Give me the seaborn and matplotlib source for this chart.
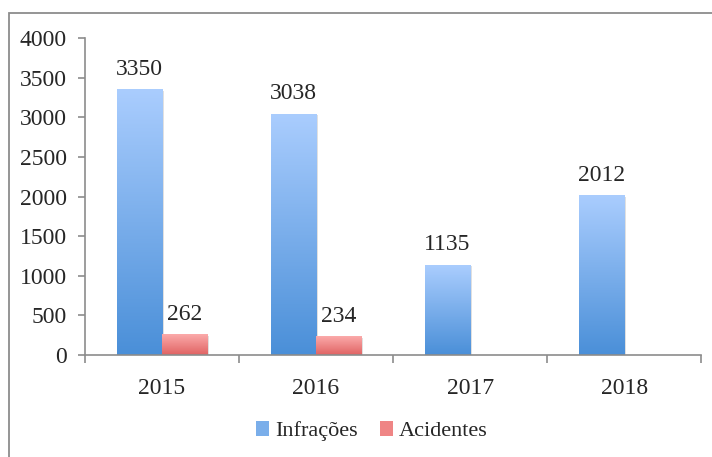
import matplotlib.pyplot as plt
import matplotlib.colors as mcolors
from matplotlib.patches import Rectangle, Patch
import numpy as np
import pandas as pd
import seaborn as sns

anos = ['2015', '2016', '2017', '2018']
infracoes = [3350, 3038, 1135, 2012]
acidentes = [262, 234, None, None]

linhas = []
for a, i, c in zip(anos, infracoes, acidentes):
    linhas.append({'Ano': a, 'Serie': 'Infrações', 'Valor': i})
    if c is not None:
        linhas.append({'Ano': a, 'Serie': 'Acidentes', 'Valor': c})
df = pd.DataFrame(linhas)

sns.set_style('white')
plt.rcParams['font.family'] = ['Liberation Serif', 'DejaVu Serif']
fs = 17

# gradient colours (top, bottom)
grad = {'Infrações': ('#aacdfe', '#4a8fd8'),
        'Acidentes': ('#fbaaaa', '#e06363')}

fig = plt.figure(figsize=(7.12, 4.57), dpi=100)
ax = fig.add_axes([0.119, 0.223, 0.866, 0.694])

sns.barplot(data=df, x='Ano', y='Valor', hue='Serie', order=anos,
            hue_order=['Infrações', 'Acidentes'], width=0.585,
            palette=[grad['Infrações'][1], grad['Acidentes'][1]],
            ax=ax, legend=False, errorbar=None)

ax.set_ylim(0, 4000)
ax.set_xlim(-0.5, 3.5)
ax.set_yticks(range(0, 4001, 500))
ax.set_xlabel('')
ax.set_ylabel('')

for cont in ax.containers:
    ax.bar_label(cont, fmt='%d', padding=7, fontsize=fs)

# gradient fill on each bar
for cont, serie in zip(ax.containers, ['Infrações', 'Acidentes']):
    cmap = mcolors.LinearSegmentedColormap.from_list(serie, [grad[serie][1], grad[serie][0]])
    for p in cont.patches:
        h = p.get_height()
        if not np.isfinite(h) or h == 0:
            continue
        x0 = p.get_x()
        w = p.get_width()
        # soft shadow
        ax.add_patch(Rectangle((x0 + 0.012, 0), w, h - 15, facecolor='#000000',
                               alpha=0.12, edgecolor='none', zorder=1.5))
        g = np.linspace(0, 1, 256).reshape(-1, 1)
        ax.imshow(g, extent=[x0, x0 + w, 0, h], origin='lower', aspect='auto',
                  cmap=cmap, zorder=2)
        p.set_visible(False)

ax.set_ylim(0, 4000)
ax.set_xlim(-0.5, 3.5)

for s in ['top', 'right']:
    ax.spines[s].set_visible(False)
for s in ['left', 'bottom']:
    ax.spines[s].set_color('#8c8c8c')
    ax.spines[s].set_linewidth(1.2)

ax.tick_params(axis='y', left=True, length=5, width=1.2, color='#8c8c8c',
               labelsize=fs, pad=8)
ax.set_xticks(range(4))
ax.set_xticklabels(anos)
ax.tick_params(axis='x', bottom=False, labelsize=fs, pad=13)
ax.set_xticks([-0.5, 0.5, 1.5, 2.5, 3.5], minor=True)
ax.tick_params(axis='x', which='minor', bottom=True, length=6, width=1.2,
               color='#8c8c8c')

handles = [Patch(facecolor='#7aaeea', edgecolor='none'),
           Patch(facecolor='#ef8585', edgecolor='none')]
fig.legend(handles, ['Infrações', 'Acidentes'], loc='center',
           bbox_to_anchor=(0.522, 0.056), ncol=2, frameon=False, fontsize=16,
           handlelength=0.6, handleheight=0.6, handletextpad=0.25,
           columnspacing=1.0)

# outer chart frame
fig.patches.append(Rectangle((8.5 / 712, -0.1), 1.2, 0.1 + (457 - 13.5) / 457,
                             transform=fig.transFigure, fill=False,
                             edgecolor='#8c8c8c', linewidth=1.3))

fig.savefig('out.png', dpi=100)
